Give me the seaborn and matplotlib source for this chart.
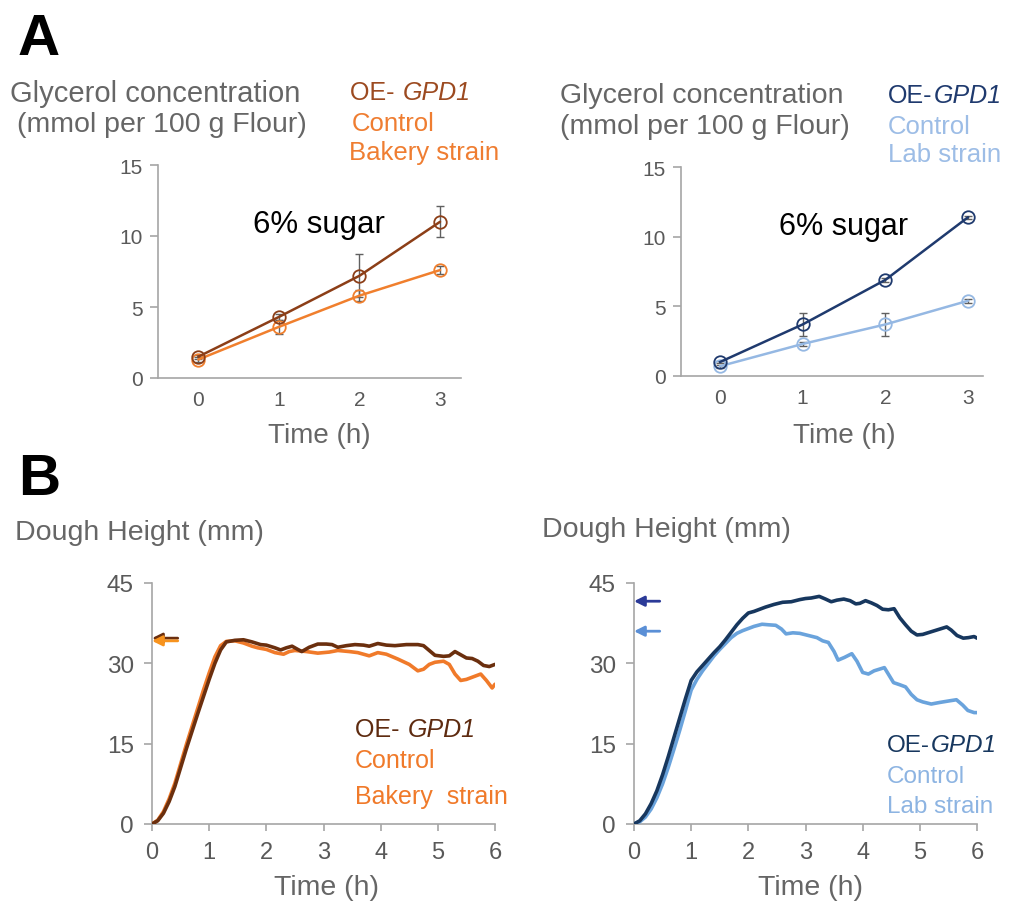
import numpy as np
import pandas as pd
import matplotlib
matplotlib.use("Agg")
import matplotlib.pyplot as plt
import seaborn as sns

sns.set_style("white")
plt.rcParams['font.family'] = ['Liberation Sans', 'DejaVu Sans']

# ---------------- data ----------------
# Panel A: glycerol (mmol / 100 g flour)
glyc_time = [0, 1, 2, 3]
bak_oe = [1.5, 4.3, 7.2, 11.0]
bak_oe_err = [0.15, 0.2, 1.5, 1.1]
bak_ctrl = [1.3, 3.6, 5.8, 7.6]
bak_ctrl_err = [0.15, 0.5, 0.4, 0.3]
lab_oe = [1.0, 3.7, 6.9, 11.4]
lab_oe_err = [0.1, 0.8, 0.15, 0.1]
lab_ctrl = [0.7, 2.3, 3.7, 5.4]
lab_ctrl_err = [0.1, 0.15, 0.8, 0.15]

# Panel B: dough height (mm)
bak_oe_t = [0, 0.1, 0.2, 0.3, 0.4, 0.5, 0.6, 0.7, 0.8, 0.9, 1.0, 1.1, 1.2, 1.3, 1.45, 1.6, 1.75,
            1.9, 2.0, 2.15, 2.25, 2.35, 2.45, 2.55, 2.62, 2.75, 2.9, 3.05, 3.15, 3.25, 3.4, 3.55,
            3.7, 3.8, 3.95, 4.1, 4.25, 4.45, 4.65, 4.75, 4.85, 4.95, 5.1, 5.2, 5.3, 5.4, 5.5, 5.6,
            5.7, 5.8, 5.9, 6.0]
bak_oe_h = [0, 0.6, 2.0, 4.2, 7.0, 10.5, 14.0, 17.3, 20.6, 23.8, 27.0, 30.0, 32.5, 34.0, 34.3, 34.4, 34.0,
            33.5, 33.4, 32.9, 32.5, 32.9, 33.2, 32.6, 32.2, 33.0, 33.6, 33.6, 33.5, 33.0, 33.3, 33.5,
            33.4, 33.2, 33.7, 33.4, 33.3, 33.5, 33.5, 33.3, 32.4, 31.5, 31.3, 31.4, 32.2, 31.6, 31.0, 30.9,
            30.4, 29.6, 29.4, 29.8]
bak_ctrl_t = [0, 0.1, 0.2, 0.3, 0.4, 0.5, 0.6, 0.7, 0.8, 0.9, 1.0, 1.1, 1.2, 1.3, 1.45, 1.6, 1.75,
              1.85, 2.0, 2.15, 2.3, 2.4, 2.5, 2.7, 2.9, 3.1, 3.25, 3.45, 3.6, 3.8, 3.95, 4.1, 4.3,
              4.5, 4.65, 4.75, 4.85, 4.95, 5.1, 5.2, 5.3, 5.4, 5.5, 5.6, 5.75, 5.85, 5.95, 6.0]
bak_ctrl_h = [0, 0.7, 2.3, 4.7, 7.6, 11.2, 14.8, 18.2, 21.6, 25.0, 28.2, 31.2, 33.3, 34.1, 34.2, 33.8, 33.2,
              32.9, 32.6, 32.0, 31.7, 32.2, 32.4, 32.2, 31.9, 32.1, 32.4, 32.2, 32.0, 31.4, 32.0, 31.7, 30.8,
              29.8, 28.6, 28.9, 29.8, 30.2, 30.4, 29.8, 28.0, 26.8, 27.0, 27.4, 28.0, 26.8, 25.4, 26.1]
lab_oe_t = [0, 0.1, 0.2, 0.3, 0.4, 0.5, 0.6, 0.7, 0.8, 0.9, 1.0, 1.1, 1.2, 1.3, 1.4, 1.5, 1.6, 1.7,
            1.8, 1.9, 2.0, 2.1, 2.2, 2.3, 2.45, 2.6, 2.75, 2.9, 3.0, 3.1, 3.24, 3.35, 3.45, 3.55, 3.67,
            3.78, 3.88, 3.95, 4.05, 4.15, 4.25, 4.35, 4.45, 4.55, 4.65, 4.75, 4.85, 4.95, 5.05, 5.2,
            5.35, 5.47, 5.55, 5.65, 5.76, 5.85, 5.95, 6.0]
lab_oe_h = [0, 0.6, 1.9, 3.8, 6.2, 9.2, 12.6, 16.2, 19.8, 23.4, 26.8, 28.4, 29.6, 30.8, 32.0, 33.1, 34.4, 35.8,
            37.2, 38.4, 39.4, 39.7, 40.1, 40.5, 41.0, 41.4, 41.5, 41.9, 42.1, 42.2, 42.5, 42.0, 41.5, 41.8, 42.0,
            41.7, 41.1, 41.2, 41.7, 41.3, 40.8, 40.1, 40.0, 40.2, 38.5, 37.2, 36.0, 35.3, 35.4, 35.9,
            36.4, 36.8, 36.2, 35.2, 34.7, 34.8, 35.0, 34.7]
lab_ctrl_t = [0, 0.1, 0.2, 0.3, 0.4, 0.5, 0.6, 0.7, 0.8, 0.9, 1.0, 1.1, 1.2, 1.3, 1.4, 1.5, 1.6, 1.7,
              1.8, 1.9, 2.0, 2.1, 2.24, 2.35, 2.48, 2.58, 2.66, 2.78, 2.9, 3.05, 3.2, 3.3, 3.4, 3.5,
              3.57, 3.68, 3.81, 3.9, 4.0, 4.1, 4.2, 4.38, 4.46, 4.54, 4.65, 4.75, 4.85, 4.95, 5.05,
              5.2, 5.35, 5.52, 5.64, 5.75, 5.84, 5.95, 6.0]
lab_ctrl_h = [0, 0.4, 1.3, 2.8, 4.9, 7.5, 10.6, 14.0, 17.5, 21.2, 25.0, 27.0, 28.6, 30.0, 31.4, 32.6, 33.7, 34.8,
              35.6, 36.1, 36.5, 36.9, 37.3, 37.2, 37.1, 36.4, 35.5, 35.7, 35.6, 35.2, 34.8, 34.2, 33.9, 32.2,
              30.6, 31.1, 31.8, 30.4, 28.3, 28.0, 28.6, 29.2, 27.8, 26.4, 26.0, 25.6, 24.2, 23.2, 22.8,
              22.4, 22.7, 23.0, 23.2, 22.2, 21.2, 20.8, 20.8]

# target heights marked by arrows
bak_arrow_h = [34.7, 34.2]
lab_arrow_h = [41.6, 36.0]

glyc_yticks = [0, 5, 10, 15]
dough_yticks = [0, 15, 30, 45]
dough_xticks = [0, 1, 2, 3, 4, 5, 6]

# ---------------- figure ----------------
W, H = 1014, 903
fig = plt.figure(figsize=(W / 100, H / 100), dpi=100)
renderer = fig.canvas.get_renderer()


def px_axes(l, r, t, b):
    return fig.add_axes([l / W, 1 - b / H, (r - l) / W, (b - t) / H])


def ftext(x, y, s, **kw):
    return fig.text(x / W, 1 - y / H, s, va='baseline', **kw)


def gene_text(x, y, prefix, gene, **kw):
    t1 = ftext(x, y, prefix, **kw)
    bb = t1.get_window_extent(renderer=renderer)
    ftext(bb.x1 + 1, y, gene, style='italic', **kw)


GRAY = '#a6a6a6'
TICKC = '#595959'


def style(ax, xticks_on, ysize, xsize, ypad, xpad):
    sns.despine(ax=ax)
    for sp in ['left', 'bottom']:
        ax.spines[sp].set_color(GRAY)
        ax.spines[sp].set_linewidth(1.2)
    ax.tick_params(axis='y', direction='out', length=6, width=1.2, color=GRAY,
                   labelcolor=TICKC, left=True, pad=ypad, labelsize=ysize)
    ax.tick_params(axis='x', direction='out', length=5 if xticks_on else 0, width=1.2,
                   color=GRAY, labelcolor=TICKC, bottom=True, pad=xpad, labelsize=xsize)
    ax.set_facecolor('white')
    ax.set_xlabel('')
    ax.set_ylabel('')


def glyc_panel(ax, oe, oe_err, ctrl, ctrl_err, c_oe, c_ctrl, xlim):
    df = pd.DataFrame({'t': glyc_time, 'oe': oe, 'ctrl': ctrl})
    for col, err, c in [('ctrl', ctrl_err, c_ctrl), ('oe', oe_err, c_oe)]:
        sns.lineplot(data=df, x='t', y=col, ax=ax, color=c, lw=1.8, marker='o',
                     markersize=9, markerfacecolor='none', markeredgecolor=c,
                     markeredgewidth=1.3, zorder=3)
        ax.errorbar(df['t'], df[col], yerr=err, fmt='none', ecolor='#606060',
                    elinewidth=1, capsize=3, capthick=1, zorder=2)
    ax.set_xlim(*xlim)
    ax.set_ylim(0, 15)
    ax.set_yticks(glyc_yticks)
    ax.set_xticks(glyc_time)
    style(ax, False, 15, 15, 5, 9)


def dough_panel(ax, t1, h1, c1, t2, h2, c2, arrows, arrow_cols):
    d1 = pd.DataFrame({'t': t1, 'h': h1})
    d2 = pd.DataFrame({'t': t2, 'h': h2})
    sns.lineplot(data=d2, x='t', y='h', ax=ax, color=c2, lw=2.6, zorder=3)
    sns.lineplot(data=d1, x='t', y='h', ax=ax, color=c1, lw=2.6, zorder=3)
    ax.set_xlim(0, 6)
    ax.set_ylim(0, 45)
    ax.set_yticks(dough_yticks)
    ax.set_xticks(dough_xticks)
    style(ax, True, 17.5, 17, 7, 7)
    for h, c in zip(arrows, arrow_cols):
        ax.annotate('', xy=(0.0, h), xytext=(0.45, h), annotation_clip=False,
                    arrowprops=dict(arrowstyle='-|>', color=c, lw=2.0,
                                    mutation_scale=15, shrinkA=0, shrinkB=0))


# --- A, left (bakery strain)
axA1 = px_axes(158, 461, 166, 379)
glyc_panel(axA1, bak_oe, bak_oe_err, bak_ctrl, bak_ctrl_err, '#8c3e17', '#f07f2d', (-0.5, 3.26))
# --- A, right (lab strain)
axA2 = px_axes(681, 983, 168, 377)
glyc_panel(axA2, lab_oe, lab_oe_err, lab_ctrl, lab_ctrl_err, '#1f3a6e', '#95b8e3', (-0.47, 3.18))

# --- B, left
axB1 = px_axes(152, 495, 584, 825)
dough_panel(axB1, bak_oe_t, bak_oe_h, '#6b2f0e', bak_ctrl_t, bak_ctrl_h, '#f07a2a',
            bak_arrow_h, ['#6b2f0e', '#f7931e'])
# --- B, right
axB2 = px_axes(634, 977, 584, 825)
dough_panel(axB2, lab_oe_t, lab_oe_h, '#17375e', lab_ctrl_t, lab_ctrl_h, '#6aa3dc',
            lab_arrow_h, ['#2b3a98', '#5a8fd6'])

# ---------------- texts ----------------
LAB = '#666666'
ftext(18, 55, 'A', fontsize=42, fontweight='bold', color='black')
ftext(18, 495, 'B', fontsize=42, fontweight='bold', color='black')

ftext(10, 102, 'Glycerol concentration', fontsize=21, color=LAB)
ftext(17, 132, '(mmol per 100 g Flour)', fontsize=20.5, color=LAB)
gene_text(350, 100, 'OE- ', 'GPD1', fontsize=18, color='#9c4a20')
ftext(352, 131, 'Control', fontsize=18.5, color='#ef7d31')
ftext(349, 160, 'Bakery strain', fontsize=18.5, color='#ef7d31')
ftext(253, 233, '6% sugar', fontsize=22.5, color='black')
ftext(319, 443, 'Time (h)', fontsize=20, color=LAB, ha='center')

ftext(560, 103, 'Glycerol concentration', fontsize=20.5, color=LAB)
ftext(560, 134, '(mmol per 100 g Flour)', fontsize=20.5, color=LAB)
gene_text(888, 103, 'OE-', 'GPD1', fontsize=18, color='#1f3a6e')
ftext(888, 134, 'Control', fontsize=18.5, color='#9dbde6')
ftext(888, 162, 'Lab strain', fontsize=18.5, color='#9dbde6')
ftext(779, 235, '6% sugar', fontsize=22, color='black')
ftext(844, 443, 'Time (h)', fontsize=20, color=LAB, ha='center')

ftext(15, 540, 'Dough Height (mm)', fontsize=20.5, color=LAB)
gene_text(355, 737, 'OE- ', 'GPD1', fontsize=18, color='#5e2b10')
ftext(355, 768, 'Control', fontsize=18, color='#f07a2a')
ftext(355, 804, 'Bakery  strain', fontsize=18, color='#f07a2a')
ftext(327, 895, 'Time (h)', fontsize=20.5, color=LAB, ha='center')

ftext(542, 537, 'Dough Height (mm)', fontsize=20.5, color=LAB)
gene_text(887, 752, 'OE-', 'GPD1', fontsize=17.5, color='#17375e')
ftext(887, 783, 'Control', fontsize=17.5, color='#8db4e2')
ftext(887, 813, 'Lab strain', fontsize=17.5, color='#8db4e2')
ftext(810, 895, 'Time (h)', fontsize=20.5, color=LAB, ha='center')

fig.savefig('out.png', dpi=100, facecolor='white')
